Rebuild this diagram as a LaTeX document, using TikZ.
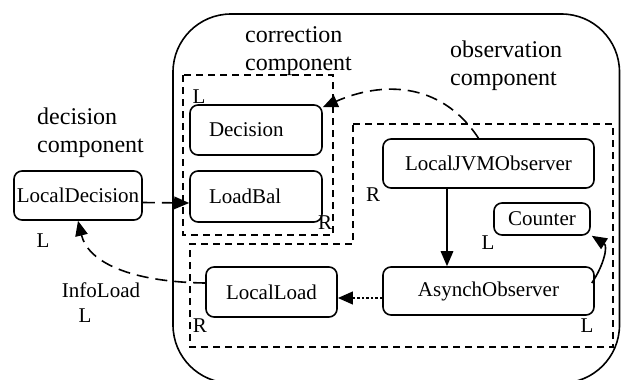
\documentclass[tikz,border=0pt]{standalone}
\usepackage{fontspec}
\setmainfont{Liberation Serif}
\usetikzlibrary{arrows.meta,calc}

\begin{document}
\begin{tikzpicture}[x=1pt,y=-1pt,
  comp/.style={draw, line width=1.6pt, rounded corners=8pt, inner sep=0pt,
    font=\fontsize{21}{25}\selectfont},
  tag/.style={inner sep=0pt, font=\fontsize{21}{25}\selectfont},
  title/.style={inner sep=0pt, anchor=west, align=left,
    font=\fontsize{24}{28}\selectfont},
  group/.style={line width=1.6pt, dash pattern=on 7pt off 5pt},
  tip/.style={-{Triangle[length=15pt,width=12.5pt]}},
  link/.style={tip, line width=1.6pt, dash pattern=on 12pt off 7pt},
  call/.style={tip, line width=1.6pt},
  notify/.style={tip, line width=2.4pt, dash pattern=on 2.5pt off 2pt},
]
\useasboundingbox (0,0) rectangle (621,380);

% container frame (its lower edge runs just below the page)
\begin{scope}
\clip (0,0) rectangle (621,380);
\draw[line width=1.6pt, rounded corners=58pt] (173,14) rectangle (619.5,383);
\end{scope}

% component groups
\draw[group] (183,75) rectangle (333,235);
\draw[group] (353,124) -- (613,124) -- (613,347) -- (190,347) -- (190,244)
  -- (353,244) -- cycle;

% group titles
\node[title] (tdec) at (37,132.5) {decision\\component};
\node[title] (tcor) at (245,51) {correction\\component};
\node[title] (tobs) at (450,65.5) {observation\\component};

% components
\node[comp, minimum width=128pt, minimum height=49pt] (ldec) at (78,195.5) {LocalDecision};
\node[comp, minimum width=132pt, minimum height=50pt, text width=94pt, align=left] (dec) at (256,130) {Decision};
\node[comp, minimum width=132pt, minimum height=51pt, text width=94pt, align=left] (lbal) at (256,196.5) {LoadBal};
\node[comp, minimum width=211pt, minimum height=49pt] (jvm) at (488.5,163.5) {LocalJVMObserver};
\node[comp, minimum width=96pt, minimum height=32pt] (cnt) at (542,219) {Counter};
\node[comp, minimum width=211pt, minimum height=48pt] (async) at (488.5,291) {AsynchObserver};
\node[comp, minimum width=131pt, minimum height=50pt] (lload) at (271.5,292) {LocalLoad};

% interface tags
\node[tag] (l1) at (199,97) {L};
\node[tag] (l2) at (43,241) {L};
\node[tag] (r1) at (325,223) {R};
\node[tag] (r2) at (373,195) {R};
\node[tag] (l3) at (488,243) {L};
\node[tag] (l4) at (587,326) {L};
\node[tag] (r3) at (200,326) {R};
\node[tag] (info) at (101,290) {InfoLoad};
\node[tag] (l5) at (85,316) {L};

% connectors
\draw[link] ([yshift=-7pt]ldec.east) -- ([yshift=-6.5pt]lbal.west);
\draw[link] ([xshift=-10pt]jvm.north) .. controls (440,80) and (380,82) .. ([yshift=-3pt]dec.north east);
\draw[call] ([xshift=-41.5pt]jvm.south) -- ([xshift=-41.5pt]async.north);
\draw[notify] ([yshift=-7pt]async.west) -- ([yshift=-6pt]lload.east);
\draw[link] ([yshift=9pt]lload.west) .. controls (130,282) and (88,262) .. (ldec.south);
\draw[call] ([yshift=8pt,xshift=-3pt]async.east) .. controls (604,265) and (608,246) .. ([xshift=1pt]cnt.south east);
\end{tikzpicture}
\end{document}
